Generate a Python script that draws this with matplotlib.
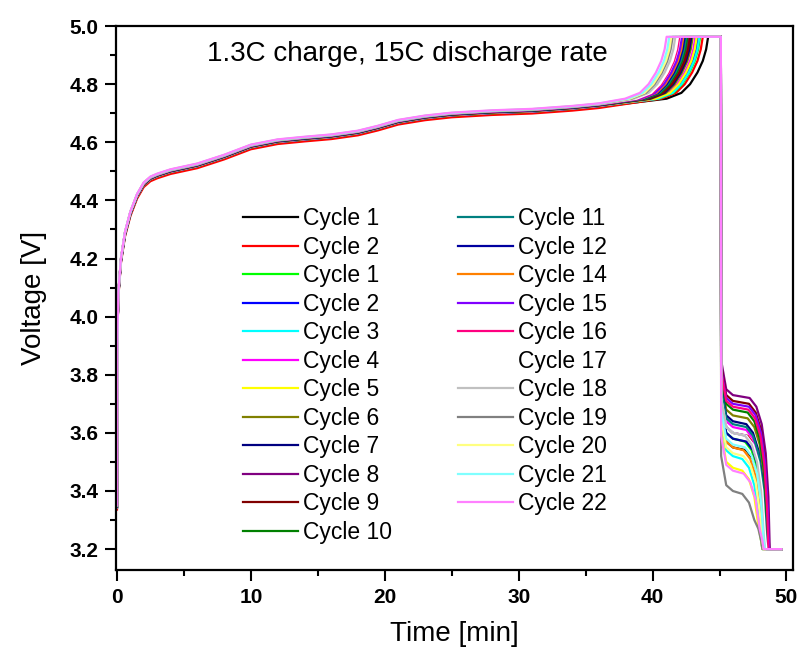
import numpy as np
import matplotlib
matplotlib.use("Agg")
import matplotlib.pyplot as plt
from matplotlib.ticker import MultipleLocator, FormatStrFormatter

plt.rcParams['font.family'] = ['Liberation Sans', 'DejaVu Sans']

# legend labels and colours, in plotting order
labels = ['Cycle 1', 'Cycle 2', 'Cycle 1', 'Cycle 2', 'Cycle 3', 'Cycle 4', 'Cycle 5',
          'Cycle 6', 'Cycle 7', 'Cycle 8', 'Cycle 9', 'Cycle 10', 'Cycle 11', 'Cycle 12',
          'Cycle 14', 'Cycle 15', 'Cycle 16', 'Cycle 17', 'Cycle 18', 'Cycle 19',
          'Cycle 20', 'Cycle 21', 'Cycle 22']
colors = ['#000000', '#ff0000', '#00ff00', '#0000ff', '#00ffff', '#ff00ff', '#ffff00',
          '#808000', '#000080', '#800080', '#800000', '#008000', '#008080', '#0000a0',
          '#ff8000', '#8000ff', '#ff0080', '#ffffff', '#c0c0c0', '#808080',
          '#ffff80', '#80ffff', '#ff80ff']

# common charge profile (min, V)
t_charge = [0.0, 0.02, 0.1, 0.3, 0.6, 1.0, 1.5, 2.0, 2.5, 3.0, 4.0, 5.0, 6.0, 7.0,
            8.0, 10.0, 12.0, 14.0, 16.0, 18.0, 19.5, 21.0, 23.0, 25.0, 28.0, 31.0,
            34.0, 36.0]
v_charge = [3.34, 3.90, 4.07, 4.19, 4.28, 4.35, 4.41, 4.45, 4.47, 4.48, 4.495, 4.505,
            4.515, 4.53, 4.545, 4.58, 4.598, 4.607, 4.615, 4.628, 4.645, 4.665, 4.68,
            4.69, 4.698, 4.703, 4.713, 4.722]
# small vertical spread of the charge curves per cycle
charge_dv = [0.000, -0.004, 0.002, 0.003, 0.004, 0.003, 0.004, 0.005, 0.005, 0.006,
             0.006, 0.006, 0.007, 0.007, 0.008, 0.008, 0.009, 0.009, 0.010, 0.010,
             0.011, 0.011, 0.012]

# end of charge knee (time to reach cut-off) per cycle
knee_end = [44.15, 43.75, 43.55, 43.4, 43.5, 43.2, 43.3, 43.0, 42.9, 42.7, 42.8, 42.6,
            42.5, 42.4, 42.3, 42.2, 42.0, 41.9, 41.7, 41.5, 41.4, 41.25, 41.05]
knee_dt = [-3.1, -2.0, -1.35, -0.8, -0.4, -0.15, 0.0]
knee_v = [4.75, 4.77, 4.80, 4.84, 4.88, 4.92, 4.963]
v_cut = 4.963
t_hold_end = 45.1
v_min = 3.2
t_rest_end = 49.6

# discharge plateau voltage and time of reaching 3.2 V per cycle
dis_plateau = [3.55, 3.60, 3.58, 3.60, 3.52, 3.62, 3.48, 3.66, 3.64, 3.73, 3.71, 3.68,
               3.63, 3.58, 3.55, 3.70, 3.69, 3.60, 3.60, 3.40, 3.53, 3.56, 3.47]
dis_end = [48.5, 48.6, 48.4, 48.5, 48.2, 48.5, 48.2, 48.6, 48.5, 48.75, 48.7, 48.6,
           48.5, 48.5, 48.3, 48.7, 48.65, 48.5, 48.4, 48.2, 48.3, 48.4, 48.3]

fig = plt.figure(figsize=(8.02, 6.59), dpi=100)
ax = fig.add_axes([0.145, 0.135, 0.844, 0.8255])

for i in range(len(labels)):
    t = list(t_charge)
    v = [x + charge_dv[i] for x in v_charge]
    t += [knee_end[i] + d for d in knee_dt]
    v += knee_v
    vp = dis_plateau[i]
    te = dis_end[i]
    t += [t_hold_end, t_hold_end + 0.02, 45.5, 46.0, te - 1.5, te - 1.0, te - 0.6,
          te - 0.3, te - 0.1, te, t_rest_end]
    v += [v_cut, vp + 0.12, vp + 0.02, vp, vp - 0.01, vp - 0.04, max(vp - 0.1, 3.3),
          max(vp - 0.2, 3.27), max(vp - 0.35, 3.23), v_min, v_min]
    ax.plot(t, v, color=colors[i], lw=1.6, label=labels[i])

ax.set_xlim(-0.05, 50.5)
ax.set_ylim(3.128, 5.0)
ax.xaxis.set_major_locator(MultipleLocator(10))
ax.xaxis.set_minor_locator(MultipleLocator(5))
ax.yaxis.set_major_locator(MultipleLocator(0.2))
ax.yaxis.set_minor_locator(MultipleLocator(0.1))
ax.yaxis.set_major_formatter(FormatStrFormatter('%.1f'))
ax.tick_params(which='both', direction='out', top=False, right=False, width=1.5)
ax.tick_params(which='major', length=8, labelsize=15, pad=5)
ax.tick_params(which='minor', length=4.5)
for lab in ax.get_xticklabels() + ax.get_yticklabels():
    lab.set_fontweight('bold')
for s in ax.spines.values():
    s.set_linewidth(1.6)

ax.set_xlabel('Time [min]', fontsize=20, labelpad=10)
ax.set_ylabel('Voltage [V]', fontsize=20, labelpad=16)
ax.text(6.7, 4.905, '1.3C charge, 15C discharge rate', fontsize=20, va='center', ha='left')

ax.legend(ncol=2, frameon=False, fontsize=16.5, loc='upper left',
          bbox_to_anchor=(0.187, 0.667), handlelength=2.4, handletextpad=0.22,
          columnspacing=2.9, labelspacing=0.24, borderpad=0, borderaxespad=0)

fig.savefig('out.png', dpi=100)
